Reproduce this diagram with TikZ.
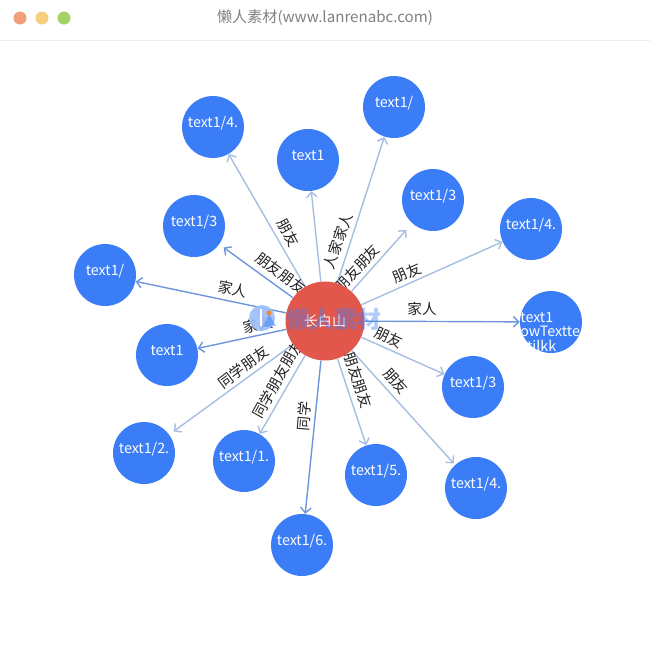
\documentclass[tikz,border=0pt]{standalone}
\usepackage{fontspec}
\setmainfont{Noto Sans CJK SC}
\usepackage{tikz}
\usetikzlibrary{arrows.meta,backgrounds}
\definecolor{nodeblue}{HTML}{3A7DF6}
\definecolor{hubred}{HTML}{E2574C}
\definecolor{linkpale}{HTML}{A6BEE2}
\definecolor{linkdark}{HTML}{6E96DC}
\definecolor{labelgray}{HTML}{222222}
\tikzset{
  leaf/.style={circle,fill=nodeblue,minimum size=1.24cm,inner sep=0pt,text=white,text height=.6em,text depth=.55em,font=\fontsize{8.1}{9}\selectfont},
  hub/.style={circle,fill=hubred,minimum size=1.58cm,inner sep=0pt,text=white,font=\fontsize{8}{9}\selectfont},
  link/.style={draw=linkpale,line width=.8pt,-{Straight Barb[length=3pt,width=6pt]}},
  darklink/.style={draw=linkdark,line width=.8pt,-{Straight Barb[length=3pt,width=6pt]}},
  edgelabel/.style={text=labelgray,inner sep=0pt,font=\fontsize{8.3}{9}\selectfont},
  dot/.style={circle,minimum size=.26cm,inner sep=0pt}
}
\begin{document}
\begin{tikzpicture}[x=.02cm,y=-.02cm]
\useasboundingbox (0,0) rectangle (650,650);
%window title bar
\node[dot,fill={rgb,255:red,242;green,160;blue,122}] (close) at (20,18) {};
\node[dot,fill={rgb,255:red,245;green,207;blue,125}] (small) at (42,18) {};
\node[dot,fill={rgb,255:red,165;green,210;blue,100}] (large) at (64,18) {};
\node[text=gray,font=\fontsize{8.6}{10}\selectfont] (title) at (325,18) {懒人素材(www.lanrenabc.com)};
\draw[black!7] (0,40.5) -- (650,40.5);
%centre
\node[hub] (shan) at (325,321) {长白山};
%outside ring
\node[leaf] (a) at (213,127) {text1/4.};
\node[leaf] (b) at (308,160) {text1};
\node[leaf] (c) at (394,107) {text1/};
\node[leaf] (d) at (433,200) {text1/3};
\node[leaf] (e) at (531,229) {text1/4.};
\node[leaf] (f) at (551,322) {};
\node[leaf] (g) at (473,387) {text1/3};
\node[leaf] (h) at (476,488) {text1/4.};
\node[leaf] (i) at (376,475) {text1/5.};
\node[leaf] (j) at (302,545) {text1/6.};
\node[leaf] (k) at (244,461) {text1/1.};
\node[leaf] (l) at (144,453) {text1/2.};
\node[leaf] (m) at (167,355) {text1};
\node[leaf] (n) at (105,275) {text1/};
\node[leaf] (o) at (194,226) {text1/3};
%long text is cut by its circle
\begin{scope}
\clip (551,322) circle (31);
\node[text=white,align=left,anchor=west,inner sep=0pt,font=\fontsize{8.1}{8.4}\selectfont] (ftext) at (520,332) {text1\\owTextte\\ztilkk};
\end{scope}
%connectors and labels go under the centre
\begin{pgfonlayer}{background}
\draw[link] (shan) -- (a);
\draw[link] (shan) -- (b);
\draw[link] (shan) -- (c);
\draw[link,shorten >=5pt] (shan) -- (d);
\draw[link] (shan) -- (e);
\draw[darklink] (shan) -- (f);
\draw[link] (shan) -- (g);
\draw[link,shorten >=1pt] (shan) -- (h);
\draw[link] (shan) -- (i);
\draw[darklink] (shan) -- (j);
\draw[link] (shan) -- (k);
\draw[link,shorten >=3pt] (shan) -- (l);
\draw[darklink] (shan) -- (m);
\draw[darklink] (shan) -- (n);
\draw[darklink,shorten >=3pt] (shan) -- (o);
%labels
\node[edgelabel,rotate=-61] (al) at (288,233) {朋友};
\node[edgelabel,rotate=-36] (ol) at (281,273) {朋友朋友};
\node[edgelabel,rotate=71] (cl) at (338,241) {人家家人};
\node[edgelabel,rotate=47] (dl) at (357,268) {朋友朋友};
\node[edgelabel,rotate=24] (el) at (407,273) {朋友};
\node[edgelabel] (fl) at (422,309) {家人};
\node[edgelabel,rotate=-24] (gl) at (389,337) {朋友};
\node[edgelabel,rotate=-47] (hl) at (396,381) {朋友};
\node[edgelabel,rotate=-71] (il) at (358,380) {朋友朋友};
\node[edgelabel,rotate=85] (jl) at (304,416) {同学};
\node[edgelabel,rotate=61] (kl) at (278,379) {同学朋友朋友};
\node[edgelabel,rotate=37] (ll) at (243,367) {同学朋友};
\node[edgelabel,rotate=12] (ml) at (258,325) {家人};
\node[edgelabel,rotate=-12] (nl) at (233,289) {家人};
\end{pgfonlayer}
%watermark
\fill[nodeblue!50!white,opacity=.92] (262,318) circle (13);
\draw[white,line width=1.4pt] (261,309) -- (261,326);
\fill[nodeblue,opacity=.5] (263,327) -- (269,314) -- (276,326) -- cycle;
\fill[orange,opacity=.8] (269,313) circle (2.5);
\node[text=nodeblue,opacity=.4,font=\fontsize{13.5}{14}\bfseries] (mark) at (334,319) {懒人素材};
\end{tikzpicture}
\end{document}
